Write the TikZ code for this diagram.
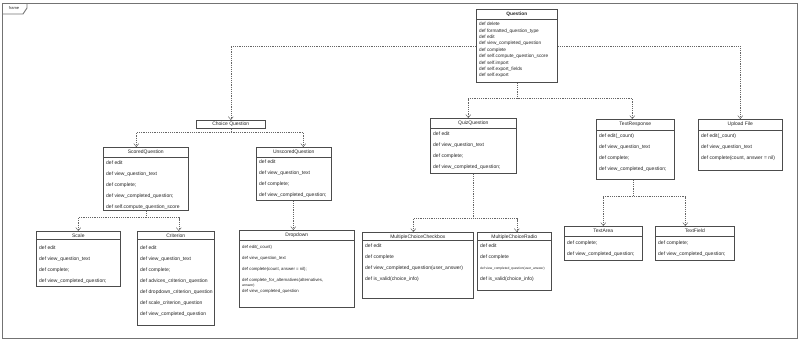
\documentclass[tikz,border=0pt]{standalone}
\usepackage{fontspec}
\setmainfont{Liberation Sans}
\usepackage{tikz}
\usetikzlibrary{arrows.meta,positioning}

\begin{document}
\begin{tikzpicture}[x=1pt, y=-1pt,
umlclass/.style={draw=black!70, line width=0.6pt, fill=white, anchor=north west, inner sep=0},
umltitle/.style={inner sep=0, text=black!85, font=\fontsize{5}{6}\selectfont},
umlops/.style={anchor=north west, align=left, inner sep=0, text=black!85, font=\fontsize{5}{11}\selectfont},
umlsep/.style={draw=black!70, line width=0.5pt},
dep/.style={draw=black!60, line width=0.5pt, dash pattern=on 1.2pt off 1pt, -{Straight Barb[length=3pt, width=5pt]}},
framebox/.style={draw=black!55, line width=0.9pt}
]
\useasboundingbox (0,0) rectangle (800,341);

% frame
\draw[framebox] (2,3) rectangle (797,338);
\draw[framebox] (2,14) -- (23,14) -- (27,8) -- (27,3);
\node[umltitle, font=\fontsize{4}{5}\selectfont] (frametag) at (14,8.5) {frame};

% top class
\node[umlclass, minimum width=81, minimum height=73] (question) at (476,9) {};
\node[umltitle, font=\fontsize{4.8}{6}\selectfont\bfseries] (question-t) at ([yshift=-5pt]question.north) {Question};
\node[umlops, font=\fontsize{4.7}{6.4}\selectfont] (question-m) at ([xshift=3pt, yshift=-13pt]question.north west) {def delete\\def formatted\_question\_type\\def edit\\def view\_completed\_question\\def complete\\def self.compute\_question\_score\\def self.import\\def self.export\_fields\\def self.export};

\node[umlclass, minimum width=69, minimum height=8] (choice) at (196,120) {};
\node[umltitle] (choice-t) at (choice.center) {Choice Question};

% second level
\node[umlclass, minimum width=85, minimum height=63] (scored) at (103,147) {};
\node[umltitle] (scored-t) at ([yshift=-5pt]scored.north) {ScoredQuestion};
\node[umlops] (scored-m) at ([xshift=3pt, yshift=-14pt]scored.north west) {def edit\\def view\_question\_text\\def complete;\\def view\_completed\_question;\\def self.compute\_question\_score};

\node[umlclass, minimum width=75, minimum height=53] (unscored) at (256,147) {};
\node[umltitle] (unscored-t) at ([yshift=-5pt]unscored.north) {UnscoredQuestion};
\node[umlops] (unscored-m) at ([xshift=3pt, yshift=-13pt]unscored.north west) {def edit\\def view\_question\_text\\def complete;\\def view\_completed\_question;};

\node[umlclass, minimum width=86, minimum height=55] (quiz) at (430,118) {};
\node[umltitle] (quiz-t) at ([yshift=-5.5pt]quiz.north) {QuizQuestion};
\node[umlops] (quiz-m) at ([xshift=3pt, yshift=-14pt]quiz.north west) {def edit\\def view\_question\_text\\def complete;\\def view\_completed\_question;};

\node[umlclass, minimum width=78, minimum height=60] (textresp) at (596,119) {};
\node[umltitle] (textresp-t) at ([yshift=-5.5pt]textresp.north) {TextResponse};
\node[umlops] (textresp-m) at ([xshift=3pt, yshift=-15pt]textresp.north west) {def edit(\_count)\\def view\_question\_text\\def complete;\\def view\_completed\_question;};

\node[umlclass, minimum width=84, minimum height=51] (upload) at (698,119) {};
\node[umltitle] (upload-t) at ([yshift=-5.5pt]upload.north) {Upload File};
\node[umlops] (upload-m) at ([xshift=3pt, yshift=-15pt]upload.north west) {def edit(\_count)\\def view\_question\_text\\def complete(count, answer = nil)};

% third level
\node[umlclass, minimum width=84, minimum height=55] (scale) at (36,231) {};
\node[umltitle] (scale-t) at ([yshift=-4.5pt]scale.north) {Scale};
\node[umlops] (scale-m) at ([xshift=3pt, yshift=-15pt]scale.north west) {def edit\\def view\_question\_text\\def complete;\\def view\_completed\_question;};

\node[umlclass, minimum width=77, minimum height=94] (criterion) at (137,231) {};
\node[umltitle] (criterion-t) at ([yshift=-4.5pt]criterion.north) {Criterion};
\node[umlops] (criterion-m) at ([xshift=3pt, yshift=-15pt]criterion.north west) {def edit\\def view\_question\_text\\def complete;\\def advices\_criterion\_question\\def dropdown\_criterion\_question\\def scale\_criterion\_question\\def view\_completed\_question};

\node[umlclass, minimum width=115, minimum height=77] (dropdown) at (239,230) {};
\node[umltitle] (dropdown-t) at ([yshift=-5pt]dropdown.north) {Dropdown};
\node[umlops, font=\fontsize{4.3}{11}\selectfont] (dropdown-m) at ([xshift=3pt, yshift=-15pt]dropdown.north west) {def edit(\_count)\\def view\_question\_text\\def complete(count, answer = nil);\\def complete\_for\_alternatives(alternatives,\\[-5.5pt]{\fontsize{3.5}{4}\selectfont answer)}\\[-5pt]def view\_completed\_question};

\node[umlclass, minimum width=111, minimum height=66] (checkbox) at (362,232) {};
\node[umltitle] (checkbox-t) at ([yshift=-5pt]checkbox.north) {MultipleChoiceCheckbox};
\node[umlops] (checkbox-m) at ([xshift=3pt, yshift=-12pt]checkbox.north west) {def edit\\def complete\\def view\_completed\_question(user\_answer)\\def is\_valid(choice\_info)};

\node[umlclass, minimum width=74, minimum height=58] (radio) at (477,232) {};
\node[umltitle] (radio-t) at ([yshift=-5pt]radio.north) {MultipleChoiceRadio};
\node[umlops] (radio-m) at ([xshift=3pt, yshift=-12pt]radio.north west) {def edit\\def complete\\{\fontsize{3.3}{4}\selectfont def view\_completed\_question(user\_answer)}\\def is\_valid(choice\_info)};

\node[umlclass, minimum width=78, minimum height=34] (textarea) at (564,226) {};
\node[umltitle] (textarea-t) at ([yshift=-5pt]textarea.north) {TextArea};
\node[umlops] (textarea-m) at ([xshift=3pt, yshift=-15pt]textarea.north west) {def complete;\\def view\_completed\_question;};

\node[umlclass, minimum width=79, minimum height=34] (textfield) at (655,226) {};
\node[umltitle] (textfield-t) at ([yshift=-5pt]textfield.north) {TextField};
\node[umlops] (textfield-m) at ([xshift=3pt, yshift=-15pt]textfield.north west) {def complete;\\def view\_completed\_question;};

% compartment lines
\foreach \c/\h in {question/10, scored/10, unscored/10, quiz/10, textresp/11, upload/11, scale/8.5, criterion/8.5, dropdown/10, checkbox/8.5, radio/8.5, textarea/10, textfield/10}
  \draw[umlsep] ([yshift=-\h pt]\c.north west) -- ([yshift=-\h pt]\c.north east);

% inheritance
\draw[dep] (question.west) -| (choice.north);
\draw[dep] (question.east) -| (upload.north);
\draw[dep] (question.south) -- ++(0,16) -| ([xshift=-5pt]quiz.north);
\draw[dep] (question.south) -- ++(0,16) -| ([xshift=-3pt]textresp.north);
\draw[dep] (choice.south) -- ++(0,4) -| ([xshift=-9.5pt]scored.north);
\draw[dep] (choice.south) -- ++(0,4) -| ([xshift=9.5pt]unscored.north);
\draw[dep] (scored.south) -- ++(0,7) -| (scale.north);
\draw[dep] (scored.south) -- ++(0,7) -| ([xshift=3pt]criterion.north);
\draw[dep] ([xshift=-0.5pt]unscored.south) -- ([xshift=-0.5pt]unscored.south |- dropdown.north);
\draw[dep] (quiz.south) -- ++(0,45) -| ([xshift=-4.5pt]checkbox.north);
\draw[dep] (quiz.south) -- ++(0,45) -| ([xshift=2.5pt]radio.north);
\draw[dep] ([xshift=-2pt]textresp.south) -- ++(0,17) -| (textarea.north);
\draw[dep] ([xshift=-2pt]textresp.south) -- ++(0,17) -| ([xshift=-9.5pt]textfield.north);
\end{tikzpicture}
\end{document}
